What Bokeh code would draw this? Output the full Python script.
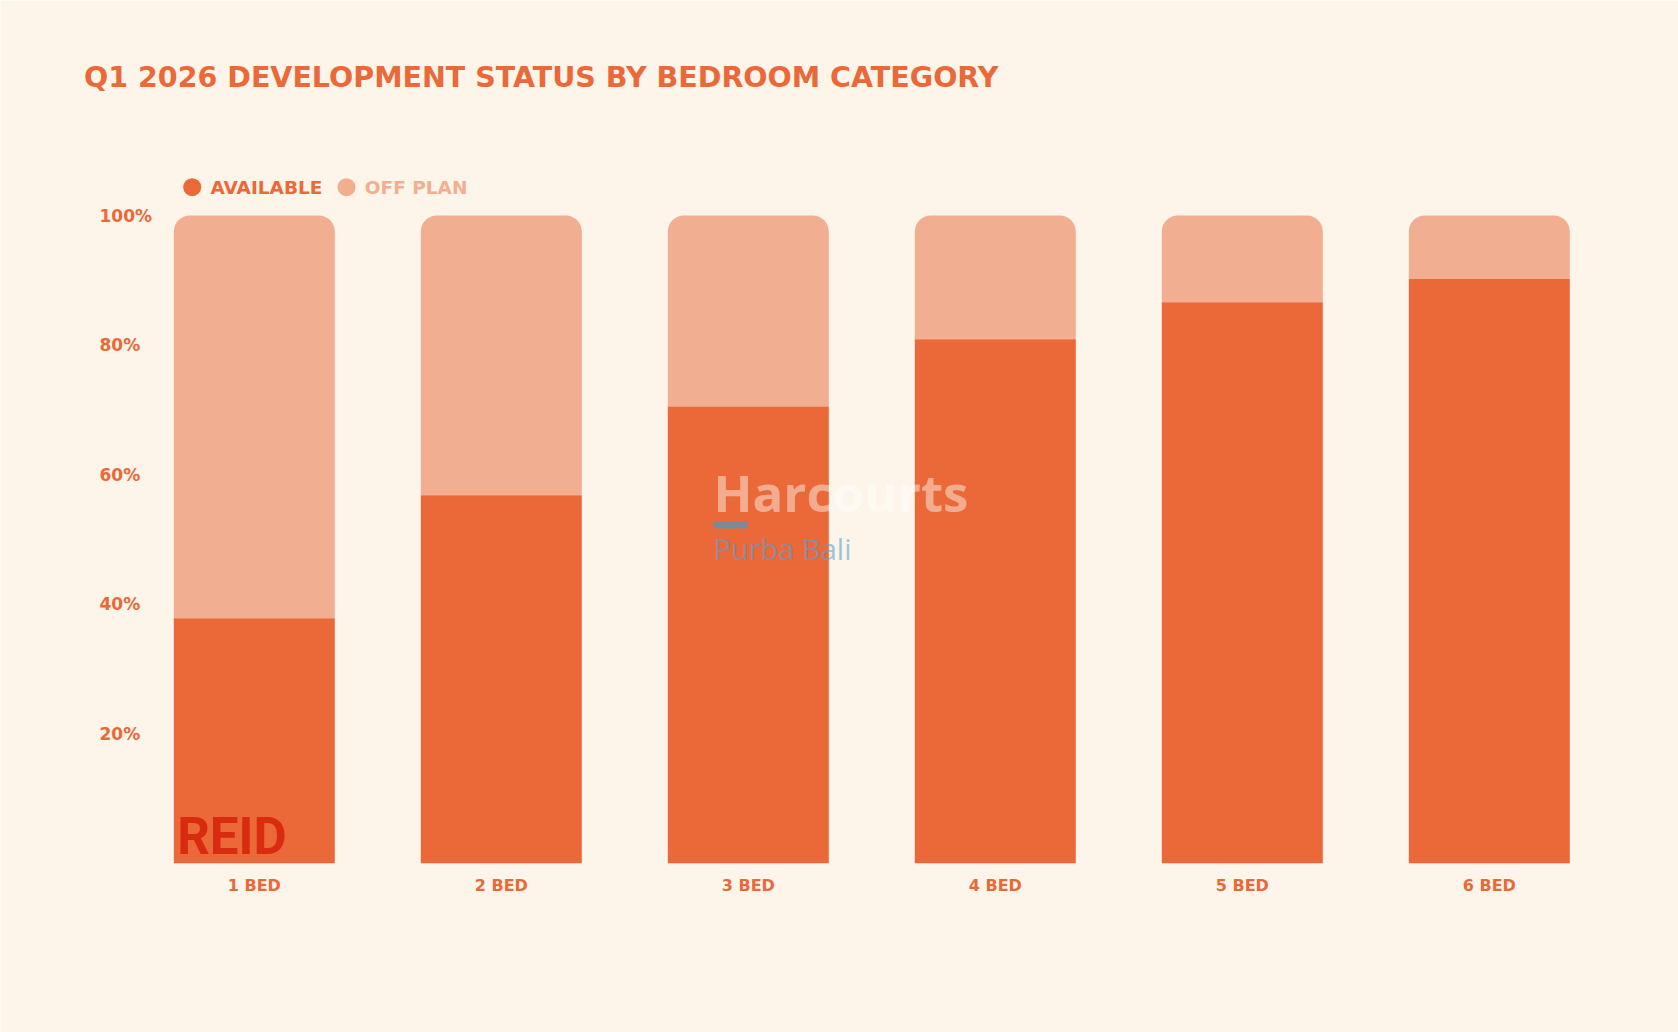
from bokeh.plotting import figure
from bokeh.models import Range1d, ColumnDataSource
from bokeh.core.properties import value
from bokeh.embed import file_html
from bokeh.resources import INLINE

# ---- data ----
categories = ["1 BED", "2 BED", "3 BED", "4 BED", "5 BED", "6 BED"]
available = [37.8, 56.8, 70.5, 80.9, 86.6, 90.2]
off_plan = [62.2, 43.2, 29.5, 19.1, 13.4, 9.8]
y_ticks = [20, 40, 60, 80, 100]
y_tick_labels = ["20%", "40%", "60%", "80%", "100%"]
series = ["AVAILABLE", "OFF PLAN"]
title_text = "Q1 2026 DEVELOPMENT STATUS BY BEDROOM CATEGORY"

# ---- style ----
C_AVAIL = "#EB6838"
C_OFF = "#F2AE90"
BG = "#FDF5EA"
TXT = "#EB6838"
FONT = "DejaVu Sans"

# page-pixel -> data helpers (layout only)
X0, DX, Y0, DY = 253.8, 247.0, 862.7, 6.477
def xd(px):
    return (px - X0) / DX
def yd(py):
    return (Y0 - py) / DY

W, H = 1678, 1032
p = figure(width=W, height=H, output_backend="svg", toolbar_location=None,
           x_range=Range1d(xd(0), xd(W)), y_range=Range1d(yd(H), yd(0)),
           min_border=0, outline_line_color=None,
           background_fill_color=BG, border_fill_color=BG)
p.axis.visible = False
p.grid.visible = False

xs = list(range(len(categories)))
tops = [a + o for a, o in zip(available, off_plan)]
src = ColumnDataSource(dict(x=xs, cat=categories, avail=available, off=off_plan, top=tops))

bw = 161 / DX
p.vbar(x="x", bottom="avail", top="top", width=bw, source=src,
       fill_color=C_OFF, line_color=None, border_radius=(16, 16, 0, 0))
p.vbar(x="x", bottom=0, top="avail", width=bw, source=src,
       fill_color=C_AVAIL, line_color=None)

common = dict(text_align="left", text_baseline="middle")

# category labels
p.text(x="x", y=yd(884.5), text="cat", source=src, text_align="center",
       text_baseline="middle", text_font=value(FONT), text_font_style="bold",
       text_font_size="16px", text_color=TXT)

# y tick labels
p.text(x=[xd(99)] * len(y_ticks), y=y_ticks, text=y_tick_labels,
       text_font=value(FONT), text_font_style="bold", text_font_size="17px",
       text_color=TXT, **common)

# title
p.text(x=[xd(83.5)], y=[yd(77.1)], text=[title_text], text_font=value(FONT),
       text_font_style="bold", text_font_size="28.5px", text_color=TXT, **common)

# legend
p.scatter(x=[xd(191.7), xd(346)], y=[yd(186.7)] * 2, size=18,
          fill_color=[C_AVAIL, C_OFF], line_color=None)
p.text(x=[xd(210), xd(364.3)], y=[yd(187)] * 2, text=series, text_font=value(FONT),
       text_font_style="bold", text_font_size="18.5px", text_color=[C_AVAIL, C_OFF], **common)

# REID logo
p.text(x=[xd(176.7)], y=[yd(835.7)], text=["REID"], text_font=value("Roboto"),
       text_font_style="bold", text_font_size="51px", text_color="#D92B10", **common)

# watermark
p.text(x=[xd(713)], y=[yd(491.9)], text=["Harcourts"], text_font=value("Open Sans"),
       text_font_style="bold", text_font_size="51px", text_color="white",
       text_alpha=0.45, **common)
p.quad(left=[xd(713)], right=[xd(747)], top=[yd(521)], bottom=[yd(528)],
       fill_color="#7a8a98", line_color=None)
p.text(x=[xd(713)], y=[yd(547.9)], text=["Purba Bali"], text_font=value("Open Sans"),
       text_font_size="29px", text_color="#5a9fd0", text_alpha=0.6, **common)

open("out.html", "w").write(file_html(p, INLINE))
